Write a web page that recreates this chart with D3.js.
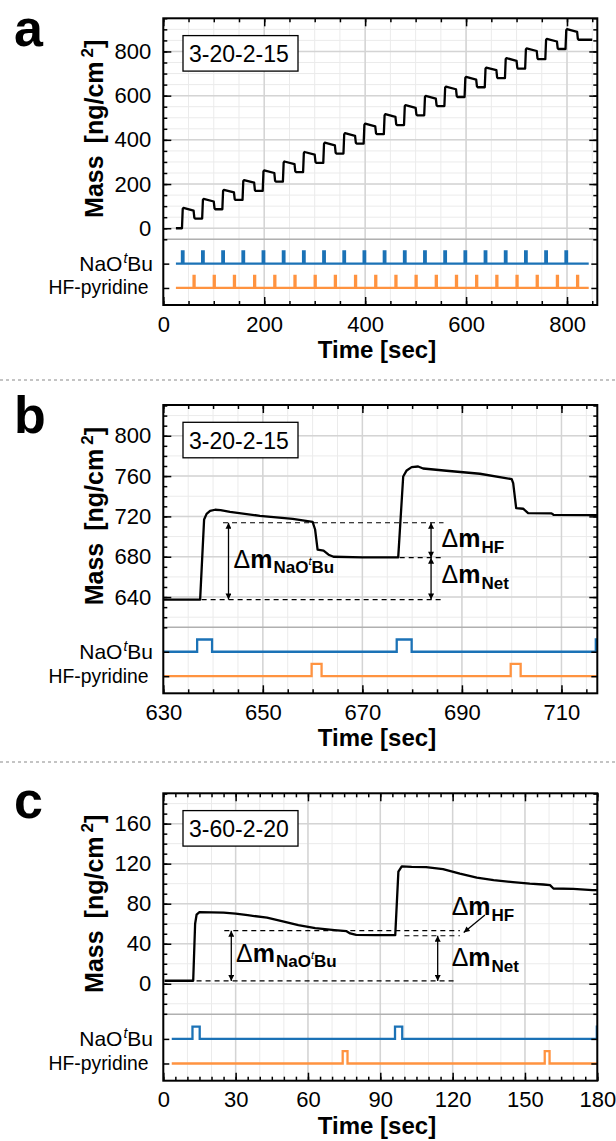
<!DOCTYPE html>
<html><head><meta charset="utf-8">
<script src="https://cdn.jsdelivr.net/npm/d3@7/dist/d3.min.js"></script>
<style>
body{margin:0;background:#fff}
svg{display:block}
text{font-family:"Liberation Sans",Arial,Helvetica,sans-serif}
</style>
</head><body>
<svg id="chart" width="616" height="1141"></svg>
<script>
// ---------------- DATA ----------------
// Panel a: 3-20-2-15, 20 cycles
const aRecipe = "3-20-2-15";
const aNaPulseStart = [37,77,117,157,197,237,277,317,357,397,437,477,517,557,597,637,677,717,757,797];
const aHfPulseStart = [60,100,140,180,220,260,300,340,380,420,460,500,540,580,620,660,700,740,780,820];
const aStartMass = 0;
const aPeakMass  = [92,133,174,218,262,302,345,387,430,473,516,557,599,641,685,727,770,814,857,901];
const aPreHfMass = [80,121,162,206,250,290,333,375,418,461,504,545,587,629,673,715,757,802,845,889];
const aLowMass   = [44,86,128,169,211,254,296,338,383,426,467,511,553,594,638,679,722,765,811,853];
const aTimeTicks = [0,200,400,600,800];
const aMassTicks = [0,200,400,600,800];

// Panel b: zoom of two cycles
const bRecipe = "3-20-2-15";
const bMass = [[630,637.5],[637.4,637.5],[638.2,717],[638.7,722.5],[639.4,725.5],[640.4,726.6],[641.5,726.3],
  [643.4,724.5],[649.4,720.6],[656,717.5],[660,714.5],[660.5,707],[661,687],[662.2,686],[663.2,682],[664.2,680],
  [670,679.3],[677.2,679.3],[678.2,759.6],[678.9,765.6],[679.9,768.9],[681.2,769.5],[682.2,767.5],[686.9,765.3],
  [693.6,762.3],[700,757],[700.3,753],[700.9,728.3],[702.3,727.6],[703.3,723.3],[708,723],[708.4,721.6],[717.2,721.3]];
const bNaPulseStart = [636.8,676.9,716.9];
const bHfPulseStart = [659.8,699.8];
const bTimeTicks = [630,650,670,690,710];
const bMassTicks = [640,680,720,760,800];
const bDashes = [[642,686.3,713.7],[637.7,686.3,637.5],[677.5,686.3,679.1]];   // t0, t1, mass
const bArrows = [[643.1,713.7,637.5],[683.8,713.7,679.1],[683.8,679.1,637.5]]; // t, mass0, mass1
const bLabelNa  = [644.1,668.5];
const bLabelHF  = [685.9,690.0];
const bLabelNet = [685.9,653.6];

// Panel c: 3-60-2-20
const cRecipe = "3-60-2-20";
const cMass = [[0.5,3],[12.4,3],[13.2,60],[13.8,69],[15,71.5],[20,71.3],[25,71],[30,70],[35,68.5],[43,66],
  [50,62],[56,58.6],[63,55.5],[71,53.6],[76,52.5],[77.5,50.3],[80,48.8],[88,48.6],[96.2,48.6],[97.5,112],
  [98.9,117.2],[103,116.8],[109,116.6],[116,114.5],[123,110],[130,106],[137,103.5],[145,101.5],[152,100],
  [157.6,99.2],[160.4,98.5],[161.8,95.2],[170,94.8],[178,93.5],[180,93.5]];
const cNaPulseStart = [12.1,96.1,179.8];
const cHfPulseStart = [74.4,158.2];
const cTimeTicks = [0,30,60,90,120,150,180];
const cMassTicks = [0,40,80,120,160];
const cDashes = [[25.3,123,53],[100,123,48],[13.8,121.7,2.8]];
const cArrows = [[28.2,53,2.8],[113.8,48,2.8]];
const cLabelNa  = [30.2,22.1];
const cLabelHF  = [119.6,68.7];
const cLabelNet = [119.6,17.8];
const cPointer  = [[133.4,68.6],[124.6,51.2]];

// ---------------- DRAWING ----------------
const svg = d3.select('#chart');
const FONT = '"Liberation Sans", Arial, Helvetica, sans-serif';
const L = 163.3, R = 597.3;
const BLUE = '#1b72b6', ORANGE = '#ff9340';

const defs = svg.append('defs');
defs.append('marker').attr('id','arrow').attr('viewBox','0 0 10 10')
  .attr('refX',10).attr('refY',5).attr('markerWidth',7).attr('markerHeight',6)
  .attr('markerUnits','userSpaceOnUse').attr('orient','auto-start-reverse')
  .append('path').attr('d','M0,0 L10,5 L0,10 Z').attr('fill','#000');

// panel separators
svg.selectAll('line.sep').data([380,762]).join('line').attr('class','sep')
  .attr('x1',0).attr('x2',616).attr('y1',d=>d).attr('y2',d=>d)
  .attr('stroke','#c4c4c4').attr('stroke-width',2).attr('stroke-dasharray','3,3');

function pulsePoints(starts, width, extent, base) {
  const pts = [[extent[0], base]];
  starts.forEach(s => { pts.push([s, base],[s, base+1],[s+width, base+1],[s+width, base]); });
  pts.push([Math.max(extent[1], pts[pts.length-1][0]), base]);
  return pts;
}

function deltaLabel(g, x, y, sub) {
  const t = g.append('text').attr('x', x).attr('y', y).attr('font-size', 25).attr('fill','#000');
  t.append('tspan').text('Δ');
  t.append('tspan').attr('font-weight','bold').text('m');
  if (sub === 'Na') {
    t.append('tspan').attr('font-size',17).attr('font-weight','bold').attr('dy',5).attr('dx',1).text('NaO');
    t.append('tspan').attr('font-size',11).attr('font-style','italic').attr('dy',-8).text('t');
    t.append('tspan').attr('font-size',17).attr('font-weight','bold').attr('dy',8).text('Bu');
  } else {
    t.append('tspan').attr('font-size',17).attr('font-weight','bold').attr('dy',6).attr('dx',1).text(sub);
  }
}

function drawPanel(p) {
  const g = svg.append('g');
  const x = d3.scaleLinear().domain(p.xDomain).range([L, R]);
  const y = d3.scaleLinear().domain(p.yDomain).range([p.div, p.top]);
  const v = d3.scaleLinear().domain([0, 5.4]).range([p.bottom, p.div]);
  const clipId = 'clip-' + p.letter;
  defs.append('clipPath').attr('id', clipId).append('rect')
    .attr('x', L).attr('y', p.top).attr('width', R - L).attr('height', p.bottom - p.top);

  // grid
  const grid = g.append('g');
  grid.selectAll('line.vmin').data(p.xGrid).join('line')
    .attr('x1', d => x(d)).attr('x2', d => x(d)).attr('y1', p.top).attr('y2', p.bottom)
    .attr('stroke', '#ebebeb').attr('stroke-width', 1);
  grid.selectAll('line.hmin').data(p.yGrid).join('line')
    .attr('y1', d => y(d)).attr('y2', d => y(d)).attr('x1', L).attr('x2', R)
    .attr('stroke', '#ebebeb').attr('stroke-width', 1);
  grid.selectAll('line.vmaj').data(p.xMajor).join('line')
    .attr('x1', d => x(d)).attr('x2', d => x(d)).attr('y1', p.top).attr('y2', p.bottom)
    .attr('stroke', '#d4d4d4').attr('stroke-width', 1.5);
  grid.selectAll('line.hmaj').data(p.yMajor).join('line')
    .attr('y1', d => y(d)).attr('y2', d => y(d)).attr('x1', L).attr('x2', R)
    .attr('stroke', '#d4d4d4').attr('stroke-width', 1.5);
  g.append('line').attr('x1', L).attr('x2', R).attr('y1', p.div).attr('y2', p.div)
    .attr('stroke', '#b0b0b0').attr('stroke-width', 1.6);

  const plot = g.append('g').attr('clip-path', `url(#${clipId})`);
  const vline = d3.line().x(d => x(d[0])).y(d => v(d[1]));
  plot.append('path').attr('d', vline(pulsePoints(p.na, 3, p.valveExtent, 3.4)))
    .attr('fill', 'none').attr('stroke', BLUE).attr('stroke-width', 2.3);
  plot.append('path').attr('d', vline(pulsePoints(p.hf, 2, p.valveExtent, 1.4)))
    .attr('fill', 'none').attr('stroke', ORANGE).attr('stroke-width', 2.3);

  const mline = d3.line().x(d => x(d[0])).y(d => y(d[1]));
  plot.append('path').attr('d', mline(p.mass)).attr('fill', 'none')
    .attr('stroke', '#000').attr('stroke-width', 2.3).attr('stroke-linejoin', 'round');

  // annotations
  if (p.dashes) {
    g.selectAll('line.dash').data(p.dashes).join('line')
      .attr('x1', d => x(d[0])).attr('x2', d => x(d[1])).attr('y1', d => y(d[2])).attr('y2', d => y(d[2]))
      .attr('stroke', '#000').attr('stroke-width', 1.2).attr('stroke-dasharray', '5,4');
    g.selectAll('line.arr').data(p.arrows).join('line')
      .attr('x1', d => x(d[0])).attr('x2', d => x(d[0])).attr('y1', d => y(d[1])).attr('y2', d => y(d[2]))
      .attr('stroke', '#000').attr('stroke-width', 1.3)
      .attr('marker-start', 'url(#arrow)').attr('marker-end', 'url(#arrow)');
    deltaLabel(g, x(p.labNa[0]), y(p.labNa[1]), 'Na');
    deltaLabel(g, x(p.labHF[0]), y(p.labHF[1]), 'HF');
    deltaLabel(g, x(p.labNet[0]), y(p.labNet[1]), 'Net');
    if (p.pointer) {
      g.append('line').attr('x1', x(p.pointer[0][0])).attr('y1', y(p.pointer[0][1]))
        .attr('x2', x(p.pointer[1][0])).attr('y2', y(p.pointer[1][1]))
        .attr('stroke', '#000').attr('stroke-width', 1.3).attr('marker-end', 'url(#arrow)');
    }
  }

  // axes
  const ax = g.append('g');
  function add(gen, tr) {
    const s = ax.append('g').attr('transform', tr).call(gen);
    s.select('.domain').remove();
    s.selectAll('.tick line').attr('stroke', '#000').attr('stroke-width', 1.5);
    s.attr('font-family', FONT).attr('font-size', 22);
    s.selectAll('.tick text').attr('fill', '#000');
    return s;
  }
  const fmt = d3.format('d');
  add(d3.axisLeft(y).tickValues(p.yTicks).tickSize(-4).tickFormat(''), `translate(${L},0)`);
  add(d3.axisLeft(y).tickValues(p.massTicks).tickSize(-8).tickPadding(12).tickFormat(fmt), `translate(${L},0)`);
  add(d3.axisRight(y).tickValues(p.yTicks).tickSize(-4).tickFormat(''), `translate(${R},0)`);
  add(d3.axisRight(y).tickValues(p.massTicks).tickSize(-8).tickFormat(''), `translate(${R},0)`);
  add(d3.axisBottom(x).tickValues(p.xTicks).tickSize(-4).tickFormat(''), `translate(0,${p.bottom})`);
  add(d3.axisBottom(x).tickValues(p.timeTicks).tickSize(-8).tickPadding(11).tickFormat(fmt), `translate(0,${p.bottom})`);
  add(d3.axisTop(x).tickValues(p.xTicks).tickSize(-4).tickFormat(''), `translate(0,${p.top})`);
  add(d3.axisTop(x).tickValues(p.timeTicks).tickSize(-8).tickFormat(''), `translate(0,${p.top})`);
  add(d3.axisLeft(v).tickValues([1.4, 3.4]).tickSize(-6).tickFormat(''), `translate(${L},0)`);
  add(d3.axisRight(v).tickValues([1.4, 3.4]).tickSize(-6).tickFormat(''), `translate(${R},0)`);

  g.append('rect').attr('x', L).attr('y', p.top).attr('width', R - L).attr('height', p.bottom - p.top)
    .attr('fill', 'none').attr('stroke', '#000').attr('stroke-width', 2);

  // recipe box
  g.append('rect').attr('x', 183).attr('y', p.top + 17.3).attr('width', 115).attr('height', 35.5)
    .attr('fill', '#fff').attr('stroke', '#000').attr('stroke-width', 1.3);
  g.append('text').attr('x', 189).attr('y', p.top + 43.5).attr('font-size', 23).attr('fill', '#000').text(p.recipe);

  // valve labels
  const na = g.append('text').attr('x', 153).attr('y', v(3.4) + 7.5).attr('text-anchor', 'end')
    .attr('font-size', 21).attr('fill', '#000');
  na.append('tspan').text('NaO');
  na.append('tspan').attr('font-size', 14).attr('font-style', 'italic').attr('dy', -8).attr('dx', 1).text('t');
  na.append('tspan').attr('dy', 8).text('Bu');
  g.append('text').attr('x', 48.5).attr('y', v(1.4) + 6.5)
    .attr('font-size', 21).attr('textLength', 100).attr('lengthAdjust', 'spacingAndGlyphs')
    .attr('fill', '#000').text('HF-pyridine');

  // axis titles
  const yl = g.append('text').attr('transform', `translate(102.5,${(p.top + p.div) / 2}) rotate(-90)`)
    .attr('text-anchor', 'middle').attr('font-size', 25).attr('font-weight', 'bold').attr('fill', '#000');
  yl.append('tspan').text('Mass');
  yl.append('tspan').attr('dx', 12).text('[ng/cm');
  yl.append('tspan').attr('font-size', 17).attr('dy', -10).attr('dx', 4).text('2');
  yl.append('tspan').attr('dy', 10).text(']');

  g.append('text').attr('x', 377).attr('y', p.bottom + 53).attr('text-anchor', 'middle')
    .attr('font-size', 24).attr('font-weight', 'bold').attr('fill', '#000').text('Time [sec]');

  g.append('text').attr('x', 14).attr('y', p.letterY).attr('font-size', 52).attr('font-weight', 'bold')
    .attr('fill', '#000').text(p.letter);
}

// build panel a mass trace from the per-cycle readings
const aMass = [[25, aStartMass]];
let prevLow = aStartMass;
aNaPulseStart.forEach((tn, i) => {
  const th = aHfPulseStart[i];
  aMass.push([tn, prevLow], [tn + 1.5, aPeakMass[i] - 5], [tn + 3, aPeakMass[i]],
             [th, aPreHfMass[i]], [th + 1.5, aLowMass[i] + 4], [th + 3, aLowMass[i]]);
  prevLow = aLowMass[i];
});
aMass.push([850, prevLow]);

drawPanel({
  letter: 'a', letterY: 46, top: 18.3, div: 239.3, bottom: 305,
  xDomain: [0, 860], yDomain: [-50, 950], recipe: aRecipe,
  xGrid: d3.range(0, 860.1, 50), xMajor: aTimeTicks, xTicks: d3.range(0, 860.1, 50), timeTicks: aTimeTicks,
  yGrid: d3.range(-50, 950.1, 50), yMajor: aMassTicks, yTicks: d3.range(-50, 950.1, 50), massTicks: aMassTicks,
  mass: aMass, na: aNaPulseStart, hf: aHfPulseStart, valveExtent: [25, 843]
});
drawPanel({
  letter: 'b', letterY: 433, top: 405, div: 627.3, bottom: 693.3,
  xDomain: [630, 717.2], yDomain: [610, 830.5], recipe: bRecipe,
  xGrid: d3.range(630, 717.3, 5), xMajor: bTimeTicks, xTicks: d3.range(630, 717.3, 5), timeTicks: bTimeTicks,
  yGrid: d3.range(620, 830.1, 20), yMajor: bMassTicks, yTicks: d3.range(610, 830.1, 10), massTicks: bMassTicks,
  mass: bMass, na: bNaPulseStart, hf: bHfPulseStart, valveExtent: [630, 717.2],
  dashes: bDashes, arrows: bArrows, labNa: bLabelNa, labHF: bLabelHF, labNet: bLabelNet
});
drawPanel({
  letter: 'c', letterY: 818, top: 793.3, div: 1014.3, bottom: 1080.7,
  xDomain: [0, 180], yDomain: [-30.5, 190.3], recipe: cRecipe,
  xGrid: d3.range(0, 180.1, 10), xMajor: cTimeTicks, xTicks: d3.range(0, 180.1, 5), timeTicks: cTimeTicks,
  yGrid: d3.range(-20, 190.1, 20), yMajor: cMassTicks, yTicks: d3.range(-30, 190.1, 10), massTicks: cMassTicks,
  mass: cMass, na: cNaPulseStart, hf: cHfPulseStart, valveExtent: [3.5, 180],
  dashes: cDashes, arrows: cArrows, labNa: cLabelNa, labHF: cLabelHF, labNet: cLabelNet, pointer: cPointer
});
</script>
</body></html>
